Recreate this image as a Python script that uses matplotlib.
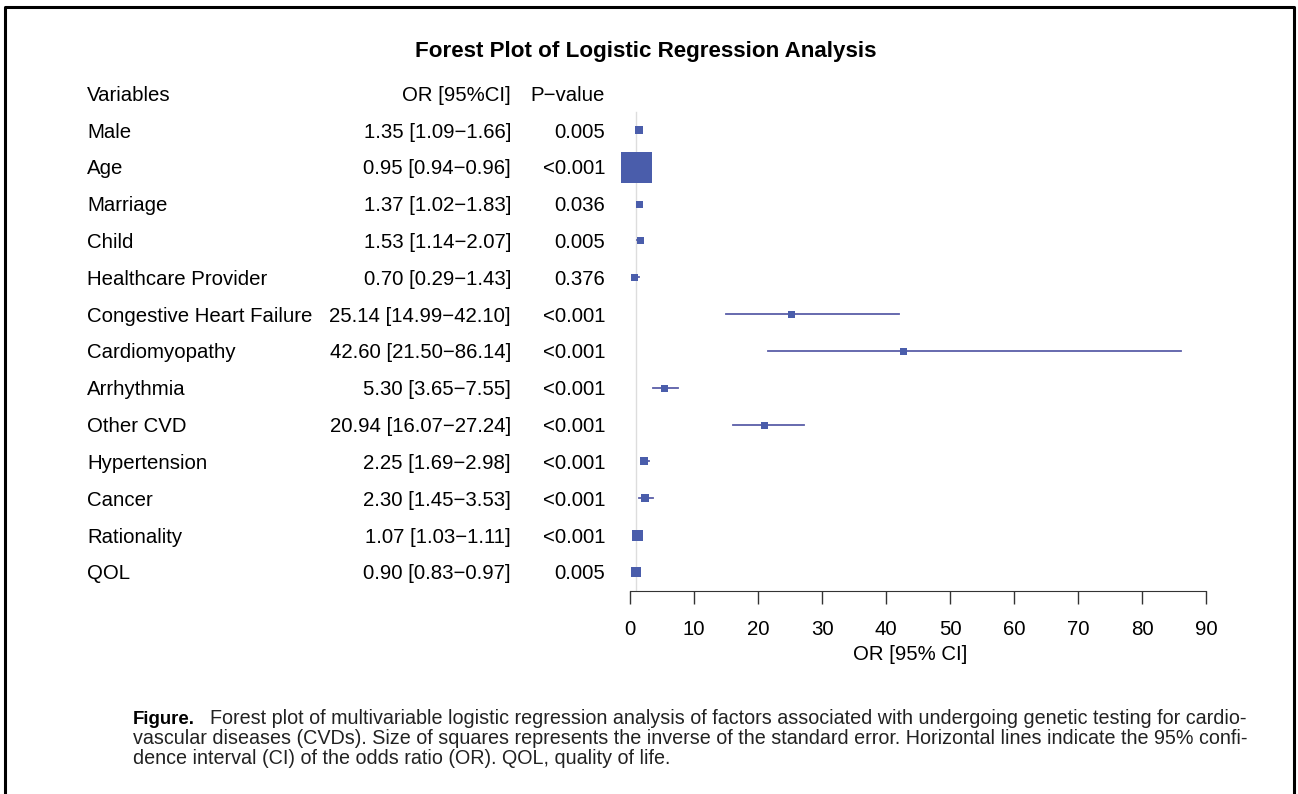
import matplotlib
matplotlib.use("Agg")
import matplotlib.pyplot as plt
import matplotlib.transforms as mtrans
from matplotlib.lines import Line2D

plt.rcParams['font.family'] = ['Liberation Sans', 'DejaVu Sans']

variables = ["Male", "Age", "Marriage", "Child", "Healthcare Provider",
             "Congestive Heart Failure", "Cardiomyopathy", "Arrhythmia",
             "Other CVD", "Hypertension", "Cancer", "Rationality", "QOL"]
odds = [1.35, 0.95, 1.37, 1.53, 0.70, 25.14, 42.60, 5.30, 20.94, 2.25, 2.30, 1.07, 0.90]
lower = [1.09, 0.94, 1.02, 1.14, 0.29, 14.99, 21.50, 3.65, 16.07, 1.69, 1.45, 1.03, 0.83]
upper = [1.66, 0.96, 1.83, 2.07, 1.43, 42.10, 86.14, 7.55, 27.24, 2.98, 3.53, 1.11, 0.97]
pvals = ["0.005", "<0.001", "0.036", "0.005", "0.376", "<0.001", "<0.001",
         "<0.001", "<0.001", "<0.001", "<0.001", "<0.001", "0.005"]
# square side in pixels (inverse of standard error)
box_px = [8, 31, 7, 7, 7, 7, 7, 7, 7, 8, 8, 11, 10]
xticks = [0, 10, 20, 30, 40, 50, 60, 70, 80, 90]

W, H = 1298, 794
fig = plt.figure(figsize=(W / 100, H / 100), dpi=100)

# axes geometry in pixels
ax_l, ax_r, ax_t, ax_b = 560, 1260, 75, 591
x0_px, ppu = 630, 6.4
ax = fig.add_axes([ax_l / W, 1 - ax_b / H, (ax_r - ax_l) / W, (ax_b - ax_t) / H])
ax.set_xlim((ax_l - x0_px) / ppu, (ax_r - x0_px) / ppu)
row0_px, row_sp = 130, 36.83
ax.set_ylim((ax_b - row0_px) / row_sp + 1, (ax_t - row0_px) / row_sp + 1)

for s in ["top", "right", "left"]:
    ax.spines[s].set_visible(False)
ax.spines["bottom"].set_bounds(0, 90)
ax.spines["bottom"].set_color("#333333")
ax.set_yticks([])
ax.set_xticks(xticks)
ax.tick_params(axis="x", length=9, width=1, color="#333333", pad=12, labelsize=14.7)
ax.set_xlabel("OR [95% CI]", fontsize=14.7, labelpad=4)

ymax = ax.get_ylim()[0]
ax.plot([1, 1], [0.5, ymax], color="#dddddd", lw=1, zorder=1)

rows = list(range(1, len(variables) + 1))
for i, r in enumerate(rows):
    ax.plot([lower[i], upper[i]], [r, r], color="#5a5ea8", lw=1.3, zorder=2)
    ax.plot(odds[i], r, marker="s", color="#4a5dab", markersize=box_px[i] * 0.72,
            markeredgewidth=0, zorder=3)

# text columns
fs = 14.7
blend = mtrans.blended_transform_factory(fig.transFigure, ax.transData)
blend = mtrans.offset_copy(blend, fig=fig, y=-2, units="dots")
ax.text(87 / W, 0, "Variables", transform=blend, ha="left", va="center", fontsize=fs)
ax.text(511 / W, 0, "OR [95%CI]", transform=blend, ha="right", va="center", fontsize=fs)
ax.text(605 / W, 0, "P\u2212value", transform=blend, ha="right", va="center", fontsize=fs)
for i, r in enumerate(rows):
    ax.text(87 / W, r, variables[i], transform=blend, ha="left", va="center", fontsize=fs)
    ci = "%.2f [%.2f\u2212%.2f]" % (odds[i], lower[i], upper[i])
    ax.text(511 / W, r, ci, transform=blend, ha="right", va="center", fontsize=fs)
    ax.text(605 / W, r, pvals[i], transform=blend, ha="right", va="center", fontsize=fs)

fig.text(646 / W, 1 - 52 / H, "Forest Plot of Logistic Regression Analysis",
         ha="center", va="center", fontsize=16.1, fontweight="bold")

# frame (left, top, right)
fig.add_artist(Line2D([5 / W, 5 / W, 1294 / W, 1294 / W], [0, 1 - 7 / H, 1 - 7 / H, 0],
                      transform=fig.transFigure, color="black", lw=2.2))

# caption
cap_font = ['Liberation Sans Narrow', 'Liberation Sans', 'DejaVu Sans']
cap_fs = 14.2
lines = ["vascular diseases (CVDs). Size of squares represents the inverse of the standard error. Horizontal lines indicate the 95% confi-",
         "dence interval (CI) of the odds ratio (OR). QOL, quality of life."]
fig.text(133 / W, 1 - 719 / H, "Figure.", ha="left", va="center", fontsize=13.4,
         fontweight="bold", family=cap_font)
fig.text(210 / W, 1 - 719 / H,
         "Forest plot of multivariable logistic regression analysis of factors associated with undergoing genetic testing for cardio-",
         ha="left", va="center", fontsize=cap_fs, family=cap_font, color="#222222")
for k, ln in enumerate(lines):
    fig.text(133 / W, 1 - (739 + 19.5 * k) / H, ln, ha="left", va="center",
             fontsize=cap_fs, family=cap_font, color="#222222")

fig.savefig("out.png", dpi=100)
